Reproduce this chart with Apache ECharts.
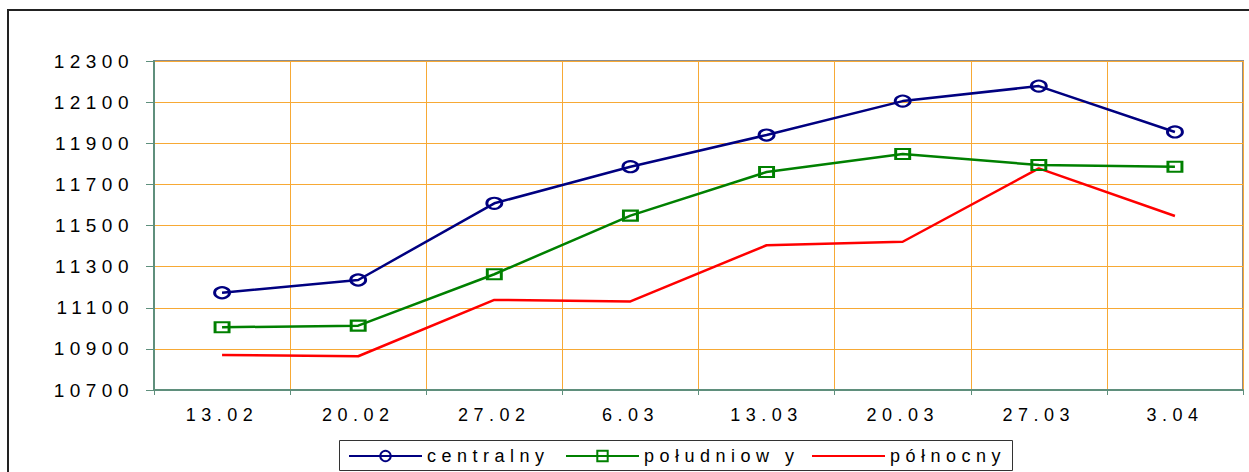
<!DOCTYPE html>
<html>
<head>
<meta charset="utf-8">
<script src="https://cdn.jsdelivr.net/npm/echarts@6/dist/echarts.min.js"></script>
<style>
  html, body { margin: 0; padding: 0; background: #fff; }
  #chart { width: 1249px; height: 472px; }
  #chart text { letter-spacing: 5.5px; }
</style>
</head>
<body>
<div id="chart"></div>
<script>
const categories = ['13.02', '20.02', '27.02', '6.03', '13.03', '20.03', '27.03', '3.04'];
const seriesNames = ['centralny', 'południow y', 'północny'];
const centralny = [11173, 11235, 11608, 11786, 11940, 12105, 12178, 11955];
const poludniowy = [11005, 11013, 11263, 11548, 11760, 11848, 11794, 11786];
const polnocny = [10870, 10864, 11138, 11131, 11404, 11421, 11778, 11546];
const yMin = 10700, yMax = 12300, yStep = 200;

const FONT = 'Liberation Sans, Arial, sans-serif';
const chart = echarts.init(document.getElementById('chart'), null, { renderer: 'svg' });

function legendFor(name, left, hideSymbol) {
  const l = {
    data: [name],
    left: left,
    top: 447,
    padding: 0,
    itemWidth: 73,
    itemHeight: 13,
    selectedMode: false,
    textStyle: { color: '#000', fontSize: 18, fontFamily: FONT }
  };
  if (hideSymbol) l.itemStyle = { opacity: 0 };
  return l;
}

chart.setOption({
  animation: false,
  backgroundColor: '#fff',
  graphic: [
    { type: 'rect', silent: true, z: -10,
      shape: { x: 8, y: 10, width: 1400, height: 600 },
      style: { fill: 'none', stroke: '#222', lineWidth: 2 } },
    { type: 'rect', silent: true, z: -10,
      shape: { x: 339.5, y: 440.5, width: 673, height: 30 },
      style: { fill: '#fff', stroke: '#333', lineWidth: 1 } }
  ],
  grid: {
    left: 154, top: 61, right: 6, bottom: 82,
    show: true, borderColor: '#8c8c8c', borderWidth: 2, backgroundColor: 'transparent'
  },
  legend: [
    legendFor(seriesNames[0], 348, false),
    legendFor(seriesNames[1], 565, false),
    legendFor(seriesNames[2], 811, true)
  ],
  xAxis: {
    type: 'category',
    data: categories,
    boundaryGap: true,
    axisLine: { show: true, lineStyle: { color: '#5f8f7c', width: 2 } },
    axisTick: { show: true, length: 5, lineStyle: { color: '#5f8f7c', width: 1 } },
    axisLabel: { color: '#000', fontSize: 18, fontFamily: FONT, margin: 16 },
    splitLine: { show: true, lineStyle: { color: '#f7a935', width: 1 } }
  },
  yAxis: {
    type: 'value',
    min: yMin, max: yMax, interval: yStep,
    axisLine: { show: true, lineStyle: { color: '#5f8f7c', width: 2 } },
    axisTick: { show: true, length: 8, lineStyle: { color: '#5f8f7c', width: 1 } },
    axisLabel: { color: '#000', fontSize: 19, fontFamily: FONT, margin: 20,
                 formatter: function (v) { return String(v); } },
    splitLine: { show: true, lineStyle: { color: '#f7a935', width: 1 } }
  },
  series: [
    {
      name: seriesNames[0], type: 'line', data: centralny, z: 4,
      symbol: 'circle', symbolSize: [15, 11],
      lineStyle: { color: '#000080', width: 2.5 },
      itemStyle: { color: 'rgba(255,255,255,0)', borderColor: '#000080', borderWidth: 2.5 }
    },
    {
      name: seriesNames[1], type: 'line', data: poludniowy, z: 3,
      symbol: 'rect', symbolSize: [14, 10],
      lineStyle: { color: '#008000', width: 2.5 },
      itemStyle: { color: 'rgba(255,255,255,0)', borderColor: '#008000', borderWidth: 2.5 }
    },
    {
      name: seriesNames[2], type: 'line', data: polnocny, z: 2,
      symbol: 'none',
      lineStyle: { color: '#ff0000', width: 2.5 },
      itemStyle: { color: '#ff0000' }
    }
  ]
});
</script>
</body>
</html>
